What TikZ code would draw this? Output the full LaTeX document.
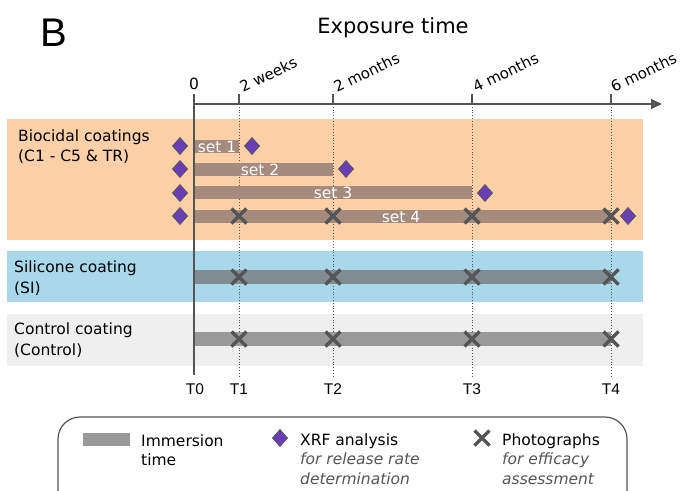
\documentclass[tikz,border=0pt]{standalone}
\usepackage{fontspec}
\setmainfont{DejaVu Sans}
\newfontfamily\narrowfont{Liberation Sans}
\usetikzlibrary{arrows.meta,calc}
\definecolor{orangebg}{HTML}{FDD0A8}
\definecolor{bluebg}{HTML}{A8D8EA}
\definecolor{greybg}{HTML}{EFEFEF}
\definecolor{setbar}{HTML}{A58B7E}
\definecolor{sibar}{HTML}{7F8C92}
\definecolor{ctrlbar}{HTML}{999999}
\definecolor{xrf}{HTML}{6A3FB5}
\definecolor{axisgrey}{HTML}{555555}
\tikzset{
  band/.style={fill=#1, draw=none},
  xrfmark/.style={fill=xrf, draw=axisgrey, line width=0.7pt},
  photomark/.style={draw=axisgrey, line width=3.5pt},
  timeline/.style={axisgrey, dotted, line width=0.8pt},
  label/.style={font=\fontsize{15.5}{20}\selectfont, align=left, anchor=base west, inner sep=0pt},
  tlabel/.style={font=\narrowfont\fontsize{15.5}{18}\selectfont, inner sep=0pt, anchor=base},
  ticklabel/.style={font=\fontsize{15}{18}\selectfont, rotate=26, anchor=base west, inner sep=0pt},
  settext/.style={font=\fontsize{15.5}{18}\selectfont, text=white, inner sep=0pt},
}
\newcommand{\xrfdiamond}[2]{\fill[xrfmark] (#1,#2) +(0,8.5) -- +(7.5,0) -- +(0,-8.5) -- +(-7.5,0) -- cycle;}
\newcommand{\photocross}[2]{\draw[photomark] (#1,#2) +(-7.5,-7.5) -- +(7.5,7.5) +(-7.5,7.5) -- +(7.5,-7.5);}
\begin{document}
\begin{tikzpicture}[x=1pt,y=-1pt]
\useasboundingbox (0,0) rectangle (680,490);

% panel letter and axis title
\node[font=\narrowfont\fontsize{40}{44}\selectfont, inner sep=0pt, anchor=base west] (panel) at (40,46) {B};
\node[font=\fontsize{21}{24}\selectfont, inner sep=0pt, anchor=base] (title) at (393,33) {Exposure time};

% coating bands
\fill[band=orangebg] (7,119) rectangle (643,240);
\fill[band=bluebg] (7,251) rectangle (643,302);
\fill[band=greybg] (7,314) rectangle (643,366);

\node[label] (bio1) at (18,141.5) {Biocidal coatings};
\node[label] (bio2) at (18,161.5) {(C1 - C5 \& TR)};
\node[label] (si1) at (14,272.5) {Silicone coating};
\node[label] (si2) at (14,293) {(SI)};
\node[label] (ct1) at (14,334.5) {Control coating};
\node[label] (ct2) at (14,355) {(Control)};

% time points on the axis
\coordinate (t0) at (194,104);
\coordinate (t1) at (239,104);
\coordinate (t2) at (333,104);
\coordinate (t3) at (472,104);
\coordinate (t4) at (611,104);
\coordinate (axisend) at (662,104);

\foreach \p in {t1,t2,t3,t4}
  \draw[timeline] (\p) -- ($(\p)+(0,273)$);

% immersion bars
\fill[setbar] (194,140) rectangle (239,153);
\fill[setbar] (194,163) rectangle (333,176);
\fill[setbar] (194,186) rectangle (472,199);
\fill[setbar] (194,210) rectangle (611,223);
\fill[sibar] (194,270) rectangle (611,284);
\fill[ctrlbar] (194,332) rectangle (611,346);

\node[settext] (s1) at (217,146.5) {set 1};
\node[settext] (s2) at (260,169.5) {set 2};
\node[settext] (s3) at (333,192.5) {set 3};
\node[settext] (s4) at (401,216.5) {set 4};

% main axis
\draw[axisgrey, line width=1.4pt] ($(t0)+(0,-10)$) -- ($(t0)+(0,271)$);
\draw[axisgrey, line width=1.4pt, -{Triangle[length=11pt,width=10pt]}] (t0) -- (axisend);
\foreach \p in {t1,t2,t3,t4}
  \draw[axisgrey, line width=1.4pt] ($(\p)+(0,-10)$) -- (\p);

\node[font=\fontsize{15.5}{18}\selectfont, inner sep=0pt, anchor=base] (zero) at (194,89) {0};
\node[ticklabel] (w2) at (243,93) {2 weeks};
\node[ticklabel] (m2) at (337,93) {2 months};
\node[ticklabel] (m4) at (476,93) {4 months};
\node[ticklabel] (m6) at (614,93) {6 months};

% XRF samplings
\xrfdiamond{180}{146}\xrfdiamond{252}{146}
\xrfdiamond{180}{169}\xrfdiamond{346}{169}
\xrfdiamond{180}{193}\xrfdiamond{485}{193}
\xrfdiamond{180}{216}\xrfdiamond{628}{216}

% photographs
\foreach \x in {239,333,472,611} {
  \photocross{\x}{216}
  \photocross{\x}{277}
  \photocross{\x}{339}
}

\node[tlabel] (T0) at (195,394) {T0};
\node[tlabel] (T1) at (239,394) {T1};
\node[tlabel] (T2) at (333,394) {T2};
\node[tlabel] (T3) at (472,394) {T3};
\node[tlabel] (T4) at (611,394) {T4};

% legend
\draw[axisgrey, line width=1.2pt, rounded corners=22pt] (58,500) -- (58,417) -- (627,417) -- (627,500);
\fill[ctrlbar] (83,433) rectangle (130,446);
\node[label] (lg1a) at (141,446) {Immersion};
\node[label] (lg1b) at (141,465) {time};
\xrfdiamond{280}{438}
\node[label] (lg2a) at (300,445) {XRF analysis};
\node[label, text=axisgrey] (lg2b) at (300,464.5) {\itshape for release rate};
\node[label, text=axisgrey] (lg2c) at (300,484) {\itshape determination};
\photocross{482}{438}
\node[label] (lg3a) at (502,445) {Photographs};
\node[label, text=axisgrey] (lg3b) at (502,464.5) {\itshape for efficacy};
\node[label, text=axisgrey] (lg3c) at (502,484) {\itshape assessment};
\end{tikzpicture}
\end{document}
